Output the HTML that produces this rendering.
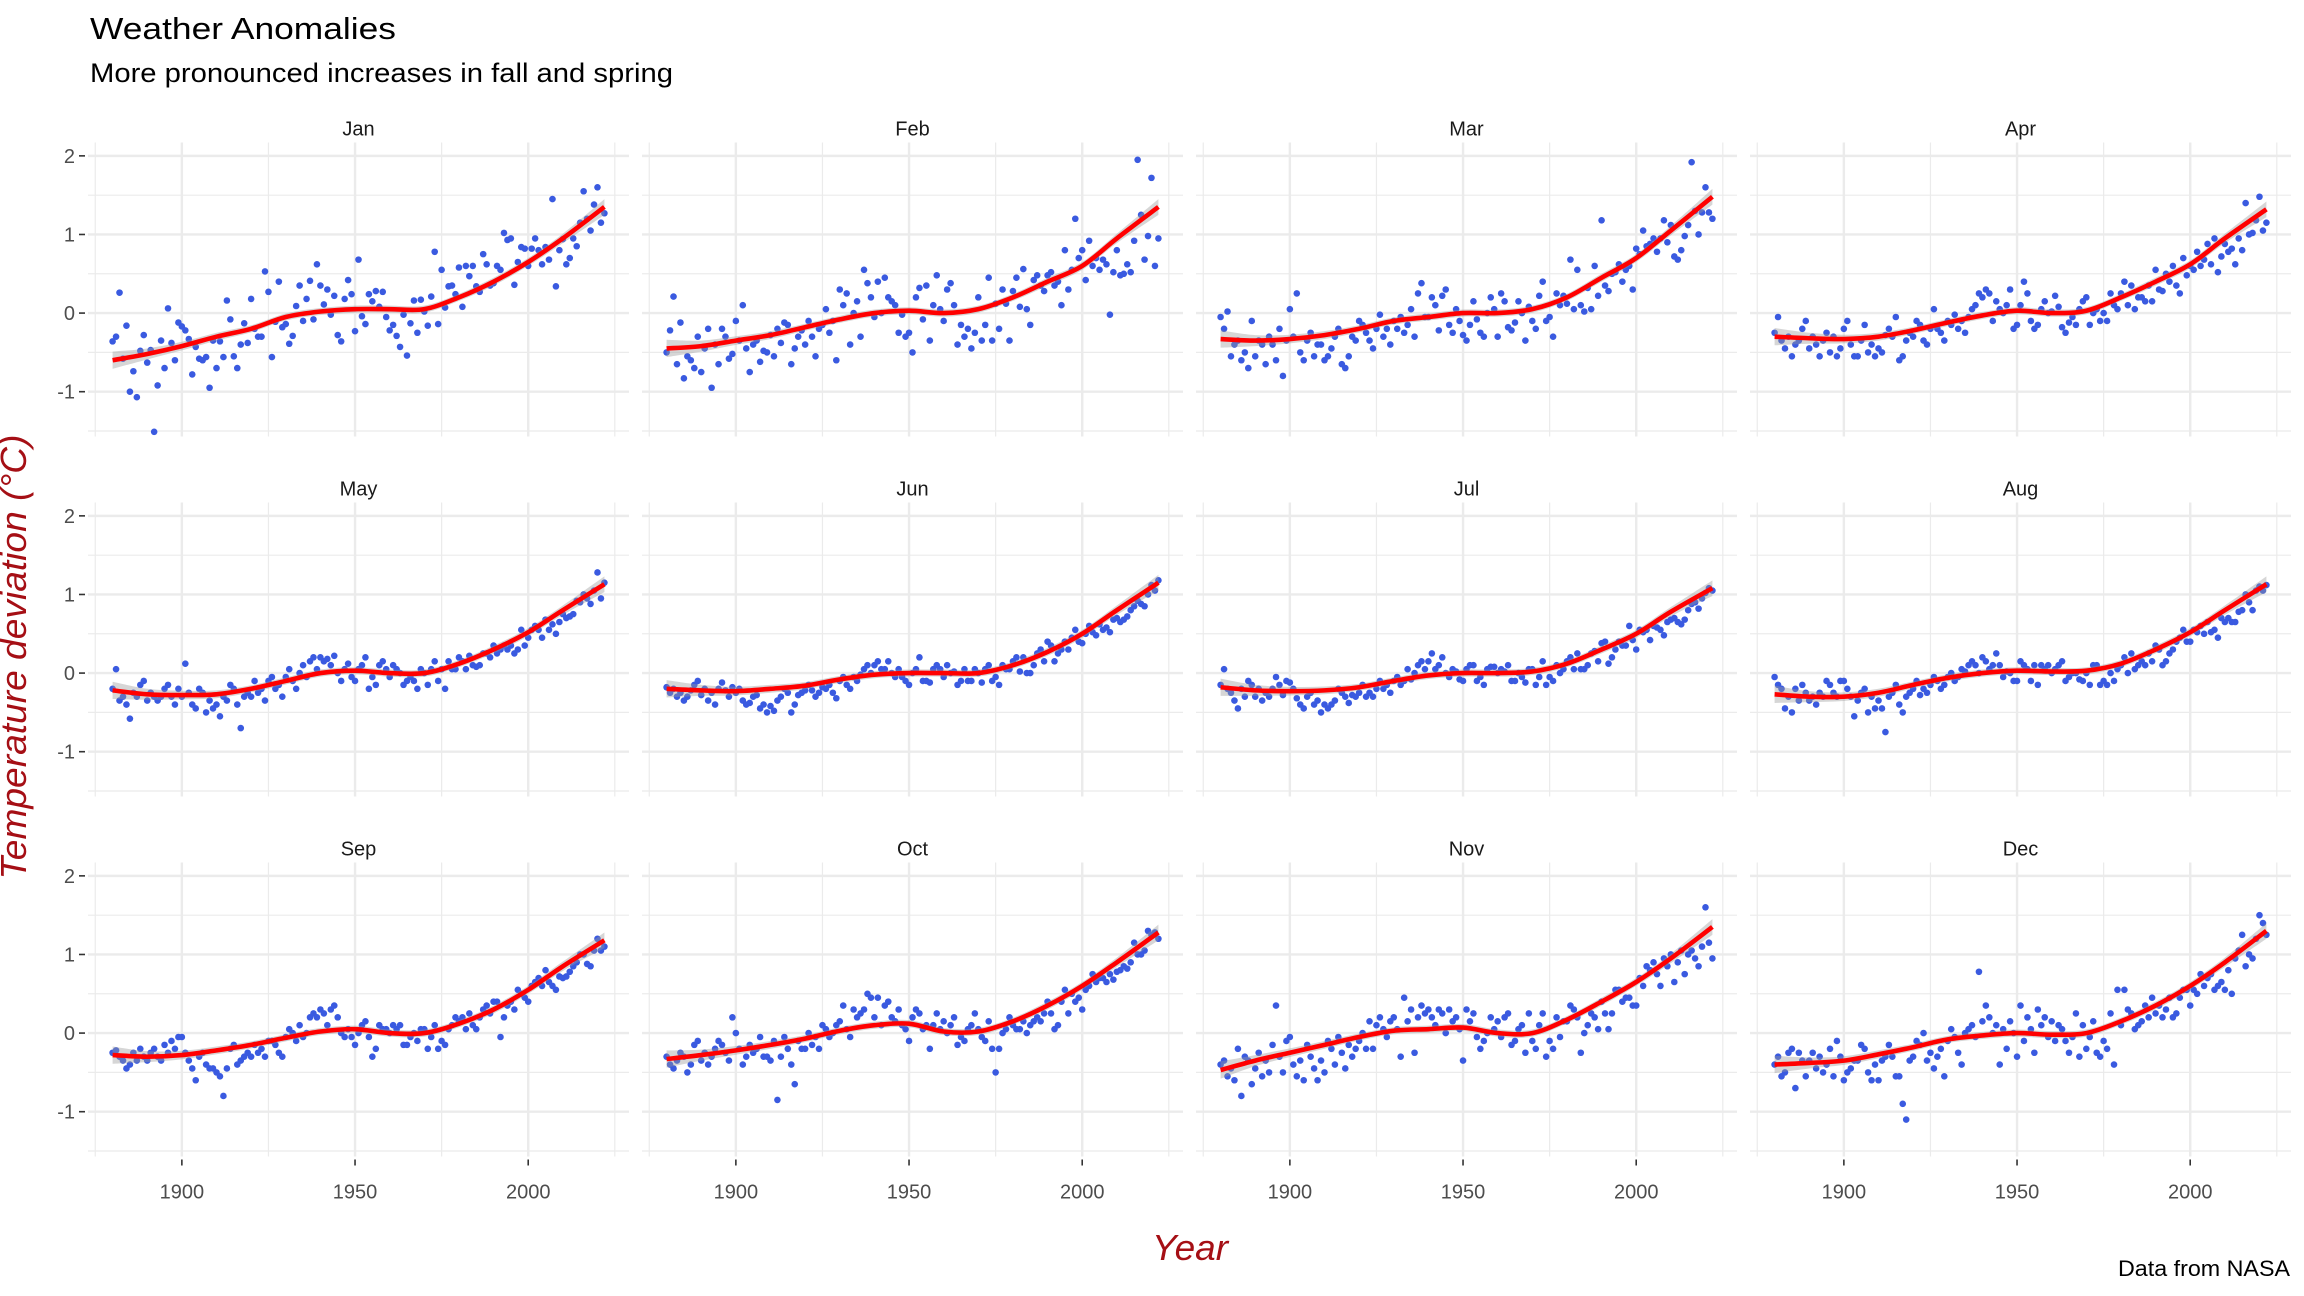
<!DOCTYPE html>
<html><head><meta charset="utf-8">
<style>
html,body{margin:0;padding:0;background:#fff;}
svg{display:block;font-family:"Liberation Sans",sans-serif;}
</style></head>
<body>
<svg id="chart" width="2304" height="1296" viewBox="0 0 2304 1296" xmlns="http://www.w3.org/2000/svg">
<rect width="2304" height="1296" fill="#fff"/>
<text x="90" y="39" font-size="31" fill="#000" textLength="306" lengthAdjust="spacingAndGlyphs">Weather Anomalies</text>
<text x="90" y="82" font-size="27" fill="#000" textLength="583" lengthAdjust="spacingAndGlyphs">More pronounced increases in fall and spring</text>
<text transform="translate(26,657) rotate(-90)" text-anchor="middle" font-size="36" font-style="italic" fill="#a50f15" textLength="445" lengthAdjust="spacingAndGlyphs">Temperature deviation (°C)</text>
<text x="1190" y="1260" text-anchor="middle" font-size="36" font-style="italic" fill="#a50f15" textLength="76" lengthAdjust="spacingAndGlyphs">Year</text>
<text x="2290" y="1276" text-anchor="end" font-size="22" fill="#000" textLength="172" lengthAdjust="spacingAndGlyphs">Data from NASA</text>
<g id="panels"></g>
</svg>
<script>
const months = ["Jan","Feb","Mar","Apr","May","Jun","Jul","Aug","Sep","Oct","Nov","Dec"];
const firstYear = 1880;
const yTicks = [-1,0,1,2];
const yTickLabels = ["-1","0","1","2"];
const xTicks = [1900,1950,2000];
const xTickLabels = ["1900","1950","2000"];
const smoothYears = [1880,1890,1900,1910,1920,1930,1940,1950,1960,1970,1980,1990,2000,2010,2022];
const bandHalf = [0.11,0.07,0.055,0.05,0.045,0.045,0.045,0.045,0.045,0.045,0.045,0.05,0.05,0.06,0.1];

const janVals = [-0.36,-0.30,0.26,-0.58,-0.16,-1.00,-0.74,-1.07,-0.48,-0.28,
-0.63,-0.47,-1.51,-0.92,-0.35,-0.70,0.06,-0.38,-0.60,-0.12,
-0.17,-0.22,-0.33,-0.78,-0.43,-0.58,-0.60,-0.56,-0.95,-0.35,
-0.70,-0.36,-0.56,0.16,-0.08,-0.55,-0.70,-0.40,-0.13,-0.38,
0.18,-0.20,-0.30,-0.30,0.53,0.27,-0.56,-0.11,0.40,-0.18,
-0.14,-0.39,-0.29,0.09,0.35,-0.10,0.18,0.41,-0.08,0.62,
0.35,0.11,0.30,-0.02,0.22,-0.28,-0.36,0.18,0.42,0.24,
-0.23,0.68,-0.04,-0.14,0.24,0.15,0.28,0.08,0.27,-0.05,
-0.22,-0.15,-0.29,-0.43,-0.02,-0.54,-0.13,0.16,-0.25,0.17,
0.02,-0.16,0.21,0.78,-0.14,0.55,0.07,0.34,0.35,0.24,
0.58,0.08,0.60,0.47,0.60,0.34,0.27,0.75,0.62,0.35,
0.38,0.60,0.55,1.02,0.93,0.95,0.36,0.65,0.84,0.82,
0.60,0.82,0.95,0.80,0.62,0.84,0.68,1.45,0.34,0.80,
0.94,0.62,0.70,0.95,0.85,1.15,1.55,1.20,1.05,1.38,
1.60,1.15,1.27];
const febVals = [-0.50,-0.22,0.21,-0.65,-0.12,-0.83,-0.55,-0.60,-0.70,-0.30,
-0.75,-0.45,-0.20,-0.95,-0.40,-0.65,-0.20,-0.30,-0.58,-0.52,
-0.10,-0.35,0.10,-0.45,-0.75,-0.40,-0.35,-0.62,-0.48,-0.50,
-0.28,-0.55,-0.20,-0.38,-0.12,-0.15,-0.65,-0.45,-0.30,-0.22,
-0.40,-0.10,-0.30,-0.55,-0.20,-0.15,0.05,-0.25,-0.10,-0.60,
0.30,0.10,0.25,-0.40,0.00,0.15,-0.30,0.55,0.38,0.20,
-0.05,0.40,0.00,0.45,0.20,0.15,0.10,-0.25,-0.02,-0.30,
-0.25,-0.50,0.20,0.32,-0.08,0.35,-0.35,0.10,0.48,0.05,
-0.10,0.30,0.38,0.10,-0.40,-0.15,-0.30,-0.20,-0.45,-0.25,
0.20,-0.35,-0.15,0.45,-0.35,0.12,-0.20,0.30,0.12,-0.35,
0.28,0.45,0.08,0.56,0.05,-0.15,0.42,0.48,0.35,0.28,
0.48,0.52,0.35,0.40,0.10,0.80,0.30,0.55,1.20,0.70,
0.80,0.42,0.92,0.60,0.70,0.55,0.68,0.62,-0.02,0.52,
0.80,0.48,0.50,0.62,0.52,0.92,1.95,1.25,0.68,0.98,
1.72,0.60,0.95];
const marVals = [-0.05,-0.20,0.02,-0.55,-0.40,-0.35,-0.60,-0.50,-0.70,-0.10,
-0.55,-0.35,-0.40,-0.65,-0.30,-0.40,-0.60,-0.20,-0.80,-0.35,
0.05,-0.30,0.25,-0.50,-0.60,-0.35,-0.25,-0.55,-0.40,-0.40,
-0.60,-0.55,-0.45,-0.30,-0.20,-0.65,-0.70,-0.55,-0.30,-0.35,
-0.10,-0.15,-0.25,-0.35,-0.45,-0.20,-0.02,-0.30,-0.20,-0.40,
-0.10,-0.20,-0.05,-0.25,-0.15,0.05,-0.30,0.25,0.38,-0.05,
-0.05,0.20,0.10,-0.22,0.22,0.30,-0.15,-0.25,0.05,-0.10,
-0.28,-0.35,-0.15,0.15,-0.08,-0.25,-0.30,0.00,0.20,0.05,
-0.30,0.25,0.15,-0.18,-0.22,-0.12,0.15,0.00,-0.35,0.08,
-0.10,-0.20,0.22,0.40,-0.10,-0.05,-0.30,0.25,0.10,0.22,
0.12,0.68,0.05,0.55,0.10,0.02,0.32,0.05,0.60,0.22,
1.18,0.35,0.28,0.50,0.52,0.62,0.40,0.55,0.60,0.30,
0.82,0.75,1.05,0.85,0.88,0.95,0.78,0.95,1.18,0.90,
1.12,0.72,0.68,0.80,0.98,1.12,1.92,1.30,1.00,1.28,
1.60,1.28,1.20];
const aprVals = [-0.25,-0.05,-0.35,-0.45,-0.30,-0.55,-0.40,-0.35,-0.20,-0.10,
-0.45,-0.30,-0.40,-0.55,-0.35,-0.25,-0.50,-0.30,-0.55,-0.45,
-0.20,-0.10,-0.40,-0.55,-0.55,-0.35,-0.15,-0.50,-0.40,-0.55,
-0.45,-0.50,-0.28,-0.20,-0.30,-0.05,-0.60,-0.55,-0.35,-0.25,
-0.30,-0.10,-0.15,-0.35,-0.40,-0.20,0.05,-0.20,-0.25,-0.35,
-0.10,-0.15,-0.02,-0.20,-0.10,-0.25,-0.05,0.05,0.10,0.25,
0.20,0.30,0.25,-0.10,0.15,0.05,0.00,0.10,0.30,-0.20,
-0.15,0.10,0.40,0.25,-0.10,-0.20,-0.15,0.05,0.15,0.00,
0.02,0.22,0.08,-0.18,-0.25,-0.12,-0.05,-0.15,0.05,0.15,
0.20,-0.15,0.00,0.05,-0.10,0.00,-0.10,0.25,0.10,0.05,
0.25,0.40,0.10,0.35,0.05,0.20,0.20,0.15,0.35,0.15,
0.55,0.30,0.28,0.50,0.40,0.60,0.35,0.25,0.70,0.48,
0.60,0.55,0.78,0.60,0.68,0.88,0.62,0.95,0.52,0.72,
0.88,0.78,0.82,0.62,0.95,0.80,1.40,1.00,1.02,1.18,
1.48,1.05,1.15];
const mayVals = [-0.20,0.05,-0.35,-0.30,-0.40,-0.58,-0.25,-0.30,-0.15,-0.10,
-0.35,-0.25,-0.30,-0.35,-0.30,-0.20,-0.15,-0.30,-0.40,-0.20,
-0.30,0.12,-0.25,-0.40,-0.45,-0.20,-0.25,-0.50,-0.35,-0.45,
-0.40,-0.55,-0.30,-0.35,-0.15,-0.20,-0.40,-0.70,-0.30,-0.25,
-0.30,-0.10,-0.25,-0.20,-0.35,-0.10,-0.05,-0.20,-0.15,-0.30,
-0.05,0.05,-0.10,-0.20,0.00,0.10,-0.05,0.15,0.20,0.05,
0.20,0.15,0.18,0.10,0.22,0.00,-0.10,0.05,0.12,-0.05,
-0.10,0.05,0.10,0.20,-0.20,-0.05,-0.15,0.10,0.15,0.05,
-0.05,0.10,0.05,0.00,-0.15,-0.10,-0.05,-0.10,-0.20,0.05,
0.00,-0.15,0.05,0.15,-0.10,0.05,-0.20,0.15,0.05,0.05,
0.20,0.15,0.05,0.22,0.10,0.08,0.10,0.25,0.25,0.20,
0.35,0.25,0.30,0.35,0.30,0.35,0.25,0.30,0.55,0.35,
0.45,0.55,0.60,0.55,0.45,0.68,0.55,0.62,0.50,0.65,
0.75,0.70,0.72,0.75,0.92,0.90,1.00,0.95,0.88,1.05,
1.28,0.95,1.15];
const junVals = [-0.18,-0.25,-0.20,-0.30,-0.25,-0.35,-0.30,-0.22,-0.15,-0.10,
-0.28,-0.20,-0.35,-0.25,-0.40,-0.20,-0.12,-0.22,-0.30,-0.18,
-0.25,-0.20,-0.35,-0.40,-0.38,-0.30,-0.28,-0.45,-0.40,-0.50,
-0.42,-0.48,-0.35,-0.30,-0.20,-0.25,-0.50,-0.40,-0.28,-0.25,
-0.22,-0.15,-0.22,-0.30,-0.25,-0.18,-0.20,-0.15,-0.25,-0.32,
-0.10,-0.05,-0.15,-0.20,-0.05,-0.10,-0.02,0.05,0.10,0.00,
0.10,0.15,0.05,0.05,0.15,0.00,-0.05,0.05,-0.05,-0.10,
-0.15,0.00,0.05,0.20,-0.10,-0.10,-0.12,0.05,0.10,0.05,
-0.05,0.10,0.00,0.02,-0.15,-0.10,0.05,-0.10,-0.10,0.05,
0.00,-0.12,0.05,0.10,-0.10,-0.05,-0.15,0.10,0.05,0.05,
0.15,0.20,0.02,0.20,0.00,0.00,0.10,0.25,0.30,0.15,
0.40,0.35,0.15,0.25,0.30,0.40,0.30,0.45,0.55,0.40,
0.38,0.50,0.60,0.52,0.48,0.62,0.55,0.58,0.52,0.68,
0.70,0.65,0.68,0.72,0.80,0.85,0.92,0.88,0.85,1.00,
1.12,1.05,1.18];
const julVals = [-0.15,0.05,-0.20,-0.25,-0.35,-0.45,-0.20,-0.30,-0.10,-0.15,
-0.30,-0.20,-0.35,-0.25,-0.30,-0.20,-0.05,-0.15,-0.28,-0.10,
-0.12,-0.20,-0.32,-0.40,-0.45,-0.30,-0.25,-0.40,-0.35,-0.50,
-0.40,-0.45,-0.40,-0.35,-0.20,-0.25,-0.30,-0.38,-0.28,-0.30,
-0.25,-0.15,-0.30,-0.25,-0.30,-0.20,-0.10,-0.20,-0.15,-0.25,
-0.10,-0.05,-0.15,-0.10,0.05,-0.08,0.00,0.10,0.15,0.05,
0.15,0.25,0.05,0.10,0.20,0.00,-0.05,0.05,0.02,-0.08,
-0.10,0.05,0.10,0.10,-0.10,-0.05,-0.15,0.05,0.08,0.08,
0.00,0.05,0.02,0.10,-0.10,-0.10,0.00,-0.05,-0.12,0.05,
0.05,-0.15,-0.05,0.15,-0.15,-0.05,-0.10,0.10,0.00,0.05,
0.15,0.20,0.05,0.25,0.05,0.05,0.10,0.25,0.28,0.15,
0.38,0.40,0.12,0.20,0.30,0.40,0.35,0.35,0.60,0.42,
0.30,0.55,0.52,0.55,0.42,0.60,0.58,0.55,0.48,0.65,
0.68,0.70,0.65,0.62,0.68,0.80,0.88,0.90,0.82,0.95,
1.02,1.08,1.05];
const augVals = [-0.05,-0.15,-0.20,-0.45,-0.30,-0.50,-0.20,-0.35,-0.15,-0.25,
-0.35,-0.30,-0.40,-0.25,-0.30,-0.10,-0.15,-0.25,-0.30,-0.10,
-0.10,-0.20,-0.30,-0.55,-0.35,-0.25,-0.20,-0.50,-0.30,-0.45,
-0.35,-0.45,-0.75,-0.30,-0.25,-0.15,-0.40,-0.50,-0.30,-0.25,
-0.20,-0.10,-0.28,-0.20,-0.25,-0.15,-0.05,-0.10,-0.20,-0.15,
-0.05,0.00,-0.10,-0.05,0.05,0.02,0.10,0.15,0.10,0.00,
0.20,0.15,0.05,0.10,0.25,0.10,-0.05,0.02,0.00,-0.10,
-0.10,0.15,0.10,0.05,-0.10,0.10,-0.15,0.10,0.05,0.10,
0.00,0.05,0.10,0.15,-0.10,-0.05,0.00,0.00,-0.08,-0.10,
0.00,-0.15,0.10,0.10,-0.15,-0.10,-0.15,0.00,-0.10,0.05,
0.10,0.20,0.00,0.25,0.05,0.10,0.15,0.10,0.25,0.15,
0.35,0.30,0.10,0.15,0.25,0.30,0.40,0.45,0.55,0.40,
0.40,0.55,0.52,0.60,0.50,0.65,0.52,0.55,0.45,0.70,
0.65,0.70,0.65,0.65,0.78,0.80,1.00,0.90,0.80,1.05,
1.10,1.05,1.12];
const sepVals = [-0.25,-0.22,-0.30,-0.35,-0.45,-0.40,-0.25,-0.35,-0.20,-0.30,
-0.35,-0.25,-0.20,-0.30,-0.35,-0.15,-0.25,-0.10,-0.20,-0.05,
-0.05,-0.25,-0.35,-0.45,-0.60,-0.30,-0.25,-0.40,-0.45,-0.45,
-0.50,-0.55,-0.80,-0.45,-0.20,-0.15,-0.40,-0.35,-0.30,-0.25,
-0.30,-0.15,-0.25,-0.20,-0.30,-0.10,-0.10,-0.15,-0.25,-0.30,
-0.05,0.05,0.00,-0.10,0.10,-0.05,0.00,0.20,0.25,0.20,
0.30,0.25,0.10,0.30,0.35,0.20,0.00,-0.05,0.05,-0.05,
-0.15,0.00,0.10,0.15,-0.05,-0.30,-0.20,0.10,0.05,0.05,
0.00,0.10,0.05,0.10,-0.15,-0.15,-0.05,0.00,-0.10,0.05,
0.05,-0.20,-0.05,0.10,-0.20,-0.10,-0.15,0.05,0.10,0.20,
0.15,0.20,0.05,0.25,0.10,0.05,0.20,0.30,0.35,0.25,
0.40,0.40,-0.05,0.20,0.35,0.40,0.30,0.55,0.50,0.45,
0.40,0.60,0.65,0.70,0.60,0.80,0.65,0.60,0.55,0.72,
0.70,0.72,0.78,0.85,0.90,1.00,1.00,0.88,0.85,1.05,
1.20,1.05,1.10];
const octVals = [-0.30,-0.40,-0.45,-0.35,-0.25,-0.30,-0.50,-0.40,-0.15,-0.10,
-0.35,-0.25,-0.40,-0.30,-0.20,-0.10,-0.15,-0.25,-0.35,0.20,
0.00,-0.20,-0.40,-0.30,-0.15,-0.25,-0.20,-0.05,-0.30,-0.30,
-0.35,-0.10,-0.85,-0.30,-0.05,-0.20,-0.40,-0.65,-0.10,-0.20,
-0.20,0.00,-0.15,-0.05,-0.20,0.10,0.05,-0.05,0.00,0.10,
0.15,0.35,0.05,-0.05,0.30,0.20,0.25,0.30,0.50,0.45,
0.20,0.45,0.10,0.35,0.40,0.20,0.15,0.30,0.10,0.05,
-0.10,0.20,0.30,0.25,0.05,0.10,-0.20,0.10,0.25,0.05,
0.15,0.00,0.10,0.20,-0.15,-0.05,-0.10,0.05,0.10,0.25,
0.05,-0.05,-0.10,0.15,-0.20,-0.50,-0.20,0.00,0.05,0.20,
0.10,0.05,0.05,0.15,0.00,0.10,0.15,0.20,0.15,0.25,
0.40,0.25,0.05,0.10,0.40,0.55,0.25,0.50,0.40,0.45,
0.30,0.55,0.60,0.75,0.65,0.70,0.70,0.65,0.75,0.68,
0.78,0.80,0.85,0.82,0.90,1.15,1.00,1.00,1.05,1.30,
1.25,1.28,1.20];
const novVals = [-0.40,-0.35,-0.55,-0.45,-0.60,-0.20,-0.80,-0.30,-0.35,-0.65,
-0.45,-0.25,-0.55,-0.35,-0.50,-0.15,0.35,-0.30,-0.50,-0.10,
-0.05,-0.40,-0.55,-0.35,-0.60,-0.15,-0.30,-0.45,-0.60,-0.35,
-0.50,-0.10,-0.20,-0.40,-0.05,-0.25,-0.45,-0.15,-0.30,-0.20,
-0.10,0.00,-0.20,0.15,-0.20,0.10,0.20,0.05,-0.05,0.15,
0.20,0.05,-0.30,0.45,0.15,0.30,-0.25,0.20,0.35,0.25,
0.30,0.20,0.10,0.30,0.25,0.00,0.30,0.15,0.20,0.05,
-0.35,0.30,0.15,0.25,-0.05,-0.20,-0.10,0.00,0.20,0.05,
0.15,-0.05,0.20,0.25,-0.15,-0.10,0.05,0.10,-0.25,0.25,
-0.10,-0.20,0.10,0.25,-0.30,-0.10,-0.20,0.20,-0.05,0.15,
0.15,0.35,0.30,0.20,-0.25,0.00,0.10,0.25,0.20,0.05,
0.40,0.25,0.05,0.25,0.55,0.55,0.40,0.45,0.45,0.35,
0.35,0.70,0.60,0.85,0.80,0.90,0.75,0.60,0.95,0.85,
1.00,0.65,0.90,1.05,0.75,1.00,1.05,0.95,0.85,1.10,
1.60,1.15,0.95];
const decVals = [-0.40,-0.30,-0.55,-0.50,-0.25,-0.20,-0.70,-0.25,-0.35,-0.55,
-0.35,-0.25,-0.45,-0.30,-0.50,-0.40,-0.20,-0.55,-0.10,-0.30,
-0.60,-0.50,-0.45,-0.35,-0.35,-0.15,-0.20,-0.50,-0.60,-0.40,
-0.60,-0.35,-0.30,-0.15,-0.30,-0.55,-0.55,-0.90,-1.10,-0.35,
-0.30,-0.10,-0.15,0.00,-0.35,-0.25,-0.45,-0.30,-0.20,-0.55,
-0.10,0.05,-0.05,-0.25,-0.40,0.00,0.05,0.10,-0.05,0.78,
0.15,0.35,0.20,0.00,0.10,-0.40,0.05,-0.20,0.15,0.00,
-0.30,0.35,-0.10,0.20,0.05,-0.25,0.30,0.10,0.20,-0.05,
0.15,-0.10,0.10,0.05,-0.10,-0.25,-0.05,0.25,-0.30,0.10,
-0.20,-0.05,0.15,-0.25,-0.30,-0.10,-0.20,0.25,-0.40,0.55,
0.10,0.55,0.30,0.25,0.05,0.10,0.15,0.35,0.20,0.45,
0.25,0.35,0.20,0.30,0.45,0.20,0.25,0.45,0.55,0.55,
0.35,0.55,0.50,0.75,0.60,0.70,0.75,0.55,0.60,0.65,
0.55,0.80,0.50,0.95,1.05,1.25,0.85,1.00,0.95,1.20,
1.50,1.40,1.25];

const janSmooth = [-0.6,-0.52,-0.42,-0.3,-0.2,-0.05,0.02,0.05,0.05,0.05,0.2,0.4,0.65,0.95,1.35];
const febSmooth = [-0.45,-0.42,-0.35,-0.28,-0.18,-0.08,0.0,0.03,0.0,0.05,0.2,0.4,0.6,0.95,1.35];
const marSmooth = [-0.33,-0.35,-0.33,-0.28,-0.2,-0.1,-0.05,0.0,0.0,0.05,0.2,0.45,0.7,1.05,1.48];
const aprSmooth = [-0.3,-0.32,-0.33,-0.3,-0.22,-0.12,-0.03,0.03,0.0,0.03,0.2,0.4,0.62,0.95,1.32];
const maySmooth = [-0.22,-0.27,-0.28,-0.27,-0.2,-0.1,0.0,0.03,0.0,0.0,0.12,0.3,0.52,0.8,1.13];
const junSmooth = [-0.2,-0.22,-0.23,-0.2,-0.16,-0.08,-0.02,0.0,0.0,0.0,0.1,0.27,0.5,0.8,1.15];
const julSmooth = [-0.18,-0.22,-0.23,-0.22,-0.18,-0.1,-0.03,0.0,0.0,0.02,0.12,0.3,0.5,0.78,1.08];
const augSmooth = [-0.27,-0.3,-0.3,-0.25,-0.15,-0.06,0.0,0.03,0.02,0.03,0.12,0.3,0.52,0.8,1.13];
const sepSmooth = [-0.28,-0.3,-0.28,-0.22,-0.15,-0.06,0.02,0.05,0.0,0.0,0.12,0.3,0.55,0.85,1.18];
const octSmooth = [-0.33,-0.28,-0.22,-0.15,-0.07,0.03,0.1,0.12,0.02,0.02,0.15,0.35,0.6,0.9,1.28];
const novSmooth = [-0.47,-0.35,-0.25,-0.15,-0.05,0.03,0.05,0.07,0.0,0.0,0.17,0.4,0.65,0.95,1.35];
const decSmooth = [-0.4,-0.38,-0.35,-0.27,-0.18,-0.08,-0.03,0.0,-0.02,0.0,0.15,0.35,0.6,0.9,1.3];

const allVals = [janVals,febVals,marVals,aprVals,mayVals,junVals,julVals,augVals,sepVals,octVals,novVals,decVals];
const allSmooth = [janSmooth,febSmooth,marSmooth,aprSmooth,maySmooth,junSmooth,julSmooth,augSmooth,sepSmooth,octSmooth,novSmooth,decSmooth];

const NS = "http://www.w3.org/2000/svg";
const root = document.getElementById("panels");
const colLeft = [88, 642, 1196, 1750];
const panelW = 541;
const rowTop = [142.5, 502.5, 862.5];
const panelH = 294;
const xMin = 1872.9, xMax = 2029.1;
const yMin = -1.57, yMax = 2.17;

function mk(tag, attrs, parent) {
  const e = document.createElementNS(NS, tag);
  for (const k in attrs) e.setAttribute(k, attrs[k]);
  parent.appendChild(e);
  return e;
}
function catmull(pts) {
  let d = "M" + pts[0][0].toFixed(2) + "," + pts[0][1].toFixed(2);
  for (let i = 0; i < pts.length - 1; i++) {
    const p0 = pts[i - 1] || pts[i], p1 = pts[i], p2 = pts[i + 1], p3 = pts[i + 2] || p2;
    const c1x = p1[0] + (p2[0] - p0[0]) / 6, c1y = p1[1] + (p2[1] - p0[1]) / 6;
    const c2x = p2[0] - (p3[0] - p1[0]) / 6, c2y = p2[1] - (p3[1] - p1[1]) / 6;
    d += " C" + c1x.toFixed(2) + "," + c1y.toFixed(2) + " " + c2x.toFixed(2) + "," + c2y.toFixed(2) + " " + p2[0].toFixed(2) + "," + p2[1].toFixed(2);
  }
  return d;
}

months.forEach((m, i) => {
  const col = i % 4, row = Math.floor(i / 4);
  const L = colLeft[col], T = rowTop[row];
  const sx = v => L + (v - xMin) / (xMax - xMin) * panelW;
  const sy = v => T + (yMax - v) / (yMax - yMin) * panelH;
  const g = mk("g", {}, root);
  
  

  const strip = mk("text", {x: L + panelW / 2, y: T - 7, "text-anchor": "middle", "font-size": "20", fill: "#1a1a1a"}, g);
  strip.textContent = m;
  
  

  const grid = mk("g", {}, g);
  
  
  [-1.5, -0.5, 0.5, 1.5].forEach(v => mk("line", {x1: L, x2: L + panelW, y1: sy(v), y2: sy(v), stroke: "#ebebeb", "stroke-width": 1.2}, grid));
  [1875, 1925, 1975, 2025].forEach(v => mk("line", {x1: sx(v), x2: sx(v), y1: T, y2: T + panelH, stroke: "#ebebeb", "stroke-width": 1.2}, grid));
  yTicks.forEach(v => mk("line", {x1: L, x2: L + panelW, y1: sy(v), y2: sy(v), stroke: "#ebebeb", "stroke-width": 2.4}, grid));
  xTicks.forEach(v => mk("line", {x1: sx(v), x2: sx(v), y1: T, y2: T + panelH, stroke: "#ebebeb", "stroke-width": 2.4}, grid));

  if (col === 0) {
    yTicks.forEach((v, k) => {
      mk("line", {x1: L - 9, x2: L - 3, y1: sy(v), y2: sy(v), stroke: "#333", "stroke-width": 1.6}, g);
      const t = mk("text", {x: L - 13, y: sy(v) + 7, "text-anchor": "end", "font-size": "20", fill: "#4d4d4d"}, g);
      t.textContent = yTickLabels[k];
      
      
    });
  }
  if (row === 2) {
    xTicks.forEach((v, k) => {
      mk("line", {x1: sx(v), x2: sx(v), y1: T + panelH + 3, y2: T + panelH + 9, stroke: "#333", "stroke-width": 1.6}, g);
      const t = mk("text", {x: sx(v), y: T + panelH + 42, "text-anchor": "middle", "font-size": "20", fill: "#4d4d4d"}, g);
      t.textContent = xTickLabels[k];
      
      
    });
  }

  const vals = allVals[i];
  const pts = mk("g", {fill: "#3a5ae0"}, g);
  
  
  vals.forEach((v, k) => {
    const c = mk("circle", {cx: sx(firstYear + k).toFixed(2), cy: sy(v).toFixed(2), r: 3.3}, pts);
    
    
  });

  const sm = allSmooth[i];
  const upper = smoothYears.map((y, k) => [sx(y), sy(sm[k] + bandHalf[k])]);
  const lower = smoothYears.map((y, k) => [sx(y), sy(sm[k] - bandHalf[k])]).reverse();
  let bandD = catmull(upper) + " L" + catmull(lower).slice(1) + " Z";
  const band = mk("path", {d: bandD, fill: "#999", "fill-opacity": 0.4}, g);
  
  
  const line = mk("path", {d: catmull(smoothYears.map((y, k) => [sx(y), sy(sm[k])])), fill: "none", stroke: "#ff0000", "stroke-width": 4.6}, g);
  
  
});
</script>
</body></html>
